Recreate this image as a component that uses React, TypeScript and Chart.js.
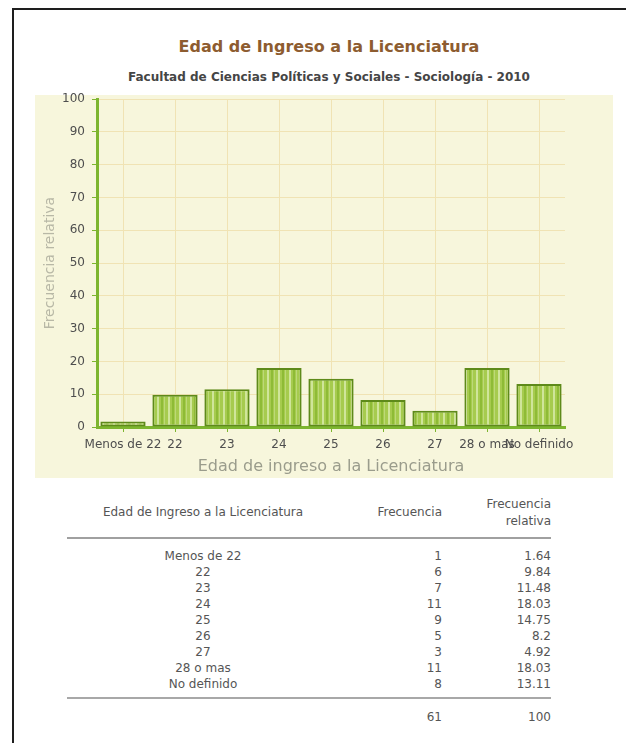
import React, { useEffect, useRef } from "react";
import { Chart, registerables } from "chart.js";

Chart.register(...registerables);

// ---- data ----
const chartTitle = "Edad de Ingreso a la Licenciatura";
const chartSubtitle = "Facultad de Ciencias Políticas y Sociales - Sociología - 2010";
const xAxisTitle = "Edad de ingreso a la Licenciatura";
const yAxisTitle = "Frecuencia relativa";
const categories = ["Menos de 22", "22", "23", "24", "25", "26", "27", "28 o mas", "No definido"];
const frecuencia = [1, 6, 7, 11, 9, 5, 3, 11, 8];
const frecuenciaRelativa = [1.64, 9.84, 11.48, 18.03, 14.75, 8.2, 4.92, 18.03, 13.11];
const tableHeaders = ["Edad de Ingreso a la Licenciatura", "Frecuencia", "Frecuencia relativa"];
const totalFrecuencia = "61";
const totalRelativa = "100";
const yMin = 0;
const yMax = 100;
const yStep = 10;

// ---- styles ----
const BG = "#f7f6dc";
const GREEN = "#7db52f";
const GRID = "#f0e3b4";
const FONT = "'DejaVu Sans', Verdana, sans-serif";

export default function App() {
  const ref = useRef<HTMLCanvasElement>(null);

  useEffect(() => {
    const canvas = ref.current;
    if (!canvas) return;
    const ctx = canvas.getContext("2d")!;

    // sketchy green stripe pattern for bars
    const pc = document.createElement("canvas");
    pc.width = 11;
    pc.height = 8;
    const p = pc.getContext("2d")!;
    p.fillStyle = "#a6cb4e";
    p.fillRect(0, 0, 11, 8);
    p.fillStyle = "#cfe59a";
    p.fillRect(1, 0, 2, 8);
    p.fillStyle = "#8ebb36";
    p.fillRect(5, 0, 2, 8);
    p.fillStyle = "#bcd978";
    p.fillRect(8, 0, 1, 8);
    const pattern = ctx.createPattern(pc, "repeat")!;

    const bgPlugin = {
      id: "bgFill",
      beforeDraw(c: any) {
        const g = c.ctx;
        g.save();
        g.fillStyle = BG;
        g.fillRect(0, 10, c.width, c.height - 10);
        g.restore();
      },
    };

    const chart = new Chart(ctx, {
      type: "bar",
      data: {
        labels: categories,
        datasets: [
          {
            data: frecuenciaRelativa,
            backgroundColor: pattern as any,
            borderColor: "#5e8a1a",
            borderWidth: 2,
            borderSkipped: false,
            barPercentage: 0.87,
            categoryPercentage: 1,
          },
        ],
      },
      options: {
        animation: false,
        responsive: false,
        maintainAspectRatio: false,
        layout: { padding: { left: 0, right: 48, top: 11, bottom: 0 } },
        plugins: {
          legend: { display: false },
          tooltip: { enabled: false },
        },
        scales: {
          x: {
            grid: {
              offset: false,
              color: GRID,
              lineWidth: 1,
              tickColor: GREEN,
              tickLength: 5,
            },
            border: { color: GREEN, width: 3 },
            ticks: {
              autoSkip: false,
              maxRotation: 0,
              minRotation: 0,
              color: "#4e4e4e",
              font: { family: FONT, size: 12 },
              padding: 6,
            },
            title: {
              display: true,
              text: xAxisTitle,
              color: "#9a9c8c",
              font: { family: FONT, size: 16 },
              padding: { top: 0, bottom: 1.4 },
            },
            afterFit: (s: any) => {
              s.height = 51;
            },
          },
          y: {
            min: yMin,
            max: yMax,
            ticks: {
              stepSize: yStep,
              color: "#4e4e4e",
              font: { family: FONT, size: 12 },
              padding: 7,
            },
            grid: {
              color: GRID,
              lineWidth: 1,
              tickColor: GREEN,
              tickLength: 5,
            },
            border: { color: GREEN, width: 3 },
            title: {
              display: true,
              text: yAxisTitle,
              color: "#b8b8a6",
              font: { family: FONT, size: 14 },
              padding: { top: 6.6, bottom: 0 },
            },
            afterFit: (s: any) => {
              s.width = 62;
            },
          },
        },
      },
      plugins: [bgPlugin],
    } as any);

    return () => chart.destroy();
  }, []);

  const cellText: React.CSSProperties = {
    padding: 0,
    fontFamily: FONT,
    fontSize: 12,
    lineHeight: "16px",
    color: "#555",
    whiteSpace: "nowrap",
  };

  return (
    <div
      style={{
        position: "fixed",
        left: 0,
        top: 0,
        width: 626,
        height: 743,
        overflow: "hidden",
        background: "#fff",
      }}
    >
      {/* frame */}
      <div
        style={{
          position: "absolute",
          left: 12,
          top: 8,
          width: 700,
          height: 800,
          borderTop: "2px solid #1e1e1e",
          borderLeft: "2px solid #1e1e1e",
        }}
      />
      {/* titles */}
      <div
        style={{
          position: "absolute",
          left: 29,
          width: 600,
          top: 37,
          textAlign: "center",
          fontFamily: FONT,
          fontWeight: "bold",
          fontSize: 16,
          lineHeight: "20px",
          color: "#8d5c30",
        }}
      >
        {chartTitle}
      </div>
      <div
        style={{
          position: "absolute",
          left: 29,
          width: 600,
          top: 69,
          textAlign: "center",
          fontFamily: FONT,
          fontWeight: "bold",
          fontSize: 12,
          lineHeight: "16px",
          color: "#454545",
        }}
      >
        {chartSubtitle}
      </div>
      <canvas
        ref={ref}
        width={578}
        height={393}
        style={{ position: "absolute", left: 35, top: 85, width: 578, height: 393 }}
      />
      {/* data table */}
      <table
        style={{
          position: "absolute",
          left: 67,
          top: 488,
          width: 484,
          borderCollapse: "collapse",
          tableLayout: "fixed",
        }}
      >
        <colgroup>
          <col style={{ width: 272 }} />
          <col style={{ width: 103 }} />
          <col style={{ width: 109 }} />
        </colgroup>
        <thead>
          <tr style={{ height: 50, borderBottom: "2px solid #a0a0a0" }}>
            <th style={{ ...cellText, fontWeight: "normal", textAlign: "center", lineHeight: "15px" }}>
              {tableHeaders[0]}
            </th>
            <th style={{ ...cellText, fontWeight: "normal", textAlign: "right", lineHeight: "15px" }}>
              {tableHeaders[1]}
            </th>
            <th
              style={{
                ...cellText,
                fontWeight: "normal",
                textAlign: "right",
                lineHeight: "17px",
                whiteSpace: "normal",
              }}
            >
              {tableHeaders[2].split(" ")[0]}
              <br />
              {tableHeaders[2].split(" ")[1]}
            </th>
          </tr>
        </thead>
        <tbody>
          <tr style={{ height: 10 }}>
            <td colSpan={3} />
          </tr>
          {categories.map((c, i) => (
            <tr key={c}>
              <td style={{ ...cellText, textAlign: "center" }}>{c}</td>
              <td style={{ ...cellText, textAlign: "right" }}>{frecuencia[i]}</td>
              <td style={{ ...cellText, textAlign: "right" }}>{frecuenciaRelativa[i]}</td>
            </tr>
          ))}
          <tr style={{ height: 6, borderBottom: "2px solid #a8a8a8" }}>
            <td colSpan={3} />
          </tr>
          <tr style={{ height: 11 }}>
            <td colSpan={3} />
          </tr>
          <tr>
            <td style={cellText} />
            <td style={{ ...cellText, textAlign: "right" }}>{totalFrecuencia}</td>
            <td style={{ ...cellText, textAlign: "right" }}>{totalRelativa}</td>
          </tr>
        </tbody>
      </table>
    </div>
  );
}
